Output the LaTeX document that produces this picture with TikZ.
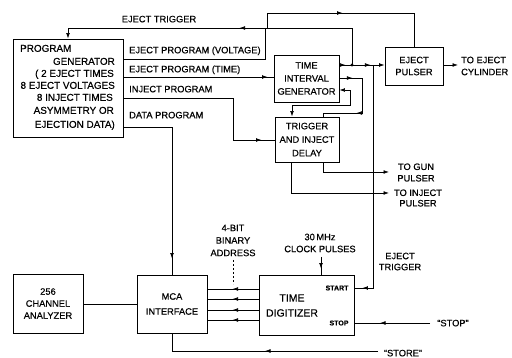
\documentclass[tikz,border=0pt]{standalone}
\usepackage{fontspec}
\setmainfont{Liberation Sans}[FakeBold=0.5]
\usetikzlibrary{arrows.meta,decorations.markings}
\newcommand\fpg{\fontsize{9.9}{12.5}\selectfont}
\newcommand\flb{\fontsize{9.3}{12}\selectfont}
\begin{document}
\begin{tikzpicture}[x=1pt,y=-1pt,
  >={Latex[length=5.5pt,width=3.8pt]},
  box/.style={draw,line width=0.9pt,inner sep=0pt,align=center,font=\flb},
  txt/.style={inner sep=0pt,font=\flb},
  pgt/.style={inner sep=0pt,font=\fpg},
  wire/.style={line width=0.7pt},
  midarr/.style={postaction={decorate,decoration={markings,mark=at position #1 with {\arrow{>}}}}},
  revarr/.style={postaction={decorate,decoration={markings,mark=at position #1 with {\arrowreversed{>}}}}}
]
\useasboundingbox (0,0) rectangle (512,358);

% boxes
\node[box,minimum width=110pt,minimum height=98pt] (pg) at (68,88) {};
\node[box,minimum width=65pt,minimum height=47pt,font=\fontsize{9.3}{13}\selectfont] (tig) at (306.5,78.5) {TIME\\INTERVAL\\GENERATOR};
\node[box,minimum width=64pt,minimum height=45pt,font=\fontsize{9.3}{13.5}\selectfont] (trig) at (307,139.5) {TRIGGER\\AND INJECT\\DELAY};
\node[box,minimum width=58pt,minimum height=38pt,font=\fontsize{9.3}{12}\selectfont] (ep) at (414,66) {EJECT\\PULSER};
\node[box,minimum width=70pt,minimum height=59pt,font=\fontsize{9.3}{12}\selectfont] (ana) at (48,303.5) {256\\CHANNEL\\ANALYZER};
\node[box,minimum width=70pt,minimum height=58pt,font=\fontsize{9.3}{15}\selectfont] (mca) at (172,304) {MCA\\INTERFACE};
\node[box,minimum width=95pt,minimum height=60pt] (td) at (306.5,305) {};

% program generator text
\node[pgt,anchor=base west] (pg1) at (20,51.8) {PROGRAM};
\node[pgt,anchor=base east] (pg2) at (115,64.8) {GENERATOR};
\node[pgt,anchor=base east] (pg3) at (114,76.8) {( 2 EJECT TIMES};
\node[pgt,anchor=base east] (pg4) at (115,88.8) {8 EJECT VOLTAGES};
\node[pgt,anchor=base east] (pg5) at (113,100.8) {8 INJECT TIMES};
\node[pgt,anchor=base east] (pg6) at (114,113.8) {ASYMMETRY OR};
\node[pgt,anchor=base east] (pg7) at (115,127.8) {EJECTION DATA)};

% time digitizer text
\node[inner sep=0pt,align=center,font=\fontsize{10.5}{15}\selectfont] (tdt) at (292,305.5) {TIME\\DIGITIZER};
\node[inner sep=0pt,font=\bfseries\fontsize{7}{8}\selectfont] (start) at (337,288) {START};
\node[inner sep=0pt,font=\bfseries\fontsize{7}{8}\selectfont] (stop) at (339,323) {STOP};

% labels
\node[txt,anchor=base] (l1) at (159,22.3) {EJECT TRIGGER};
\node[txt,anchor=base west] (l2) at (129,53.3) {EJECT PROGRAM (VOLTAGE)};
\node[txt,anchor=base west] (l3) at (129,72.3) {EJECT PROGRAM (TIME)};
\node[txt,anchor=base west] (l4) at (129,92.3) {INJECT PROGRAM};
\node[txt,anchor=base west] (l5) at (129,118.3) {DATA PROGRAM};
\node[txt,anchor=west,align=left] (l6) at (461,66) {TO EJECT\\CYLINDER};
\node[txt,align=center,font=\fontsize{9.3}{11.5}\selectfont] (l7) at (416,172.5) {TO GUN\\PULSER};
\node[txt,align=center,font=\fontsize{9.3}{10.5}\selectfont] (l8) at (418,198) {TO INJECT\\PULSER};
\node[txt,align=center,font=\fontsize{9.3}{12.5}\selectfont] (l9) at (233,240.5) {4-BIT\\BINARY\\ADDRESS};
\node[txt,align=center] (l10) at (320,243) {30\,MHz\\CLOCK PULSES};
\node[txt,align=center,font=\fontsize{9.3}{11}\selectfont] (l11) at (400,261.5) {EJECT\\TRIGGER};
\node[txt,anchor=base] (l12) at (453,326.3) {``STOP''};
\node[txt,anchor=base] (l13) at (403,356.3) {``STORE''};

% coordinates
\coordinate (j1) at (352,65);
\coordinate (j2) at (373,65);
\coordinate (toej) at (458,65);
\coordinate (gun) at (389,172);
\coordinate (inj) at (389,193);
\coordinate (stopin) at (430,323);
\coordinate (storein) at (378,351);
\coordinate (clk) at (321,257);
\coordinate (adrA) at (233,260);
\coordinate (adrB) at (233,284);

% eject trigger (top)
\draw[wire,->,revarr=105pt,midarr=223pt] (ep.north) |- (267,13) -- (267,28) -| (pg.north);
% eject program (voltage)
\draw[wire] (pg.east |- 0,59) -| (265,28) -| (j1);
\fill (j1) circle (1.6pt);
% eject program (time)
\draw[wire,midarr=-6pt] (pg.east |- 0,77) -- (tig.west |- 0,77);
% inject program
\draw[wire,midarr=-13pt] (pg.east |- 0,98) -| (233,140) -- (trig.west |- 0,140);
% data program
\draw[wire,midarr=-16pt] (pg.east |- 0,127) -| (mca.north);

% TIG outputs
\draw[wire,->,midarr=6pt,midarr=31pt] (tig.east |- 0,65) -- (ep.west |- 0,65);
\draw[wire,midarr=13pt,midarr=63pt] (tig.east |- 0,78) -| (362,113) -| (trig.north -| 323,0);
\draw[wire,<->] (trig.north -| 292,0) |- (350,105) |- (tig.east |- 0,90);
% eject pulser output
\draw[wire,->] (ep.east |- 0,65) -- (toej);
% eject trigger to start
\draw[wire,midarr=-8pt] (j2) |- (td.east |- 0,288);
% trigger outputs
\draw[wire,->] (trig.south -| 323,0) |- (gun);
\draw[wire,->] (trig.south -| 291,0) |- (inj);

% analyzer - MCA
\draw[wire] (ana.east |- 0,304) -- (mca.west |- 0,304);
% digitizer -> MCA
\foreach \yy in {289,299,310,320}
  \draw[wire,midarr=26pt] (td.west |- 0,\yy) -- (mca.east |- 0,\yy);
\draw[wire,dashed,dash pattern=on 2pt off 2pt] (adrA) -- (adrB);
% clock
\draw[wire,midarr=-6pt] (clk) -- (td.north -| 321,0);
% stop
\draw[wire,midarr=50pt] (stopin) -- (td.east |- 0,323);
% store
\draw[wire,midarr=113pt] (storein) -| (mca.south);
\end{tikzpicture}
\end{document}
